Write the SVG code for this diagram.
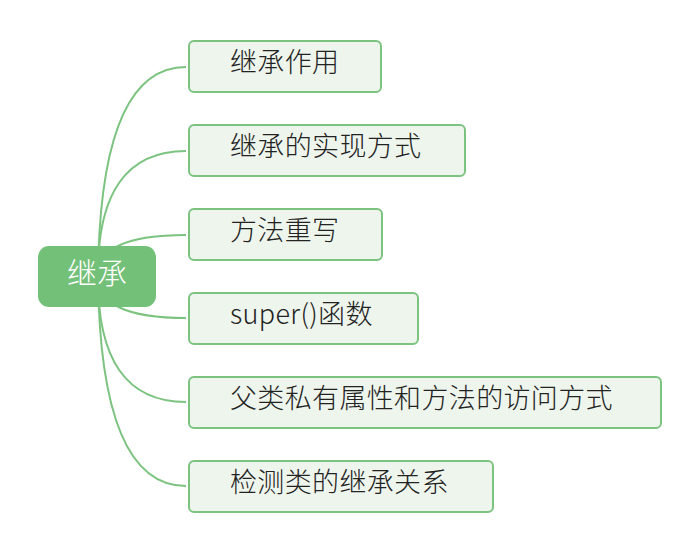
<svg xmlns="http://www.w3.org/2000/svg" width="700" height="552" viewBox="0 0 700 552">
<style>
.edge{fill:none;stroke:#7cc380;stroke-width:2}
.box{fill:#eef5ec;stroke:#7cc380;stroke-width:2}
.lbl{font-family:"Noto Sans CJK SC","Noto Sans",sans-serif;font-size:27px;font-weight:300;letter-spacing:0.35px;fill:#222}
.root{fill:#73c079}
.rlbl{font-family:"Noto Sans CJK SC","Noto Sans",sans-serif;font-size:30px;font-weight:300;fill:#fff;text-anchor:middle}
</style>
<rect width="700" height="552" fill="#fff"/>
<g id="connectors">
<path class="edge" d="M98 276 Q100 67 186 67"/>
<path class="edge" d="M98 276 Q97 151 186 151"/>
<path class="edge" d="M98 276 Q97 235 186 235"/>
<path class="edge" d="M98 276 Q97 318 186 318"/>
<path class="edge" d="M98 276 Q97 402 186 402"/>
<path class="edge" d="M98 276 Q100 486 186 486"/>
</g>
<g id="root">
<rect class="root" x="38" y="246" width="118" height="61" rx="11"/>
<text class="rlbl" x="97" y="284">继承</text>
</g>
<g id="n1">
<rect class="box" x="189" y="41" width="192" height="51" rx="5"/>
<text class="lbl" x="230" y="72">继承作用</text>
</g>
<g id="n2">
<rect class="box" x="189" y="125" width="276" height="51" rx="5"/>
<text class="lbl" x="230" y="156">继承的实现方式</text>
</g>
<g id="n3">
<rect class="box" x="189" y="209" width="193" height="51" rx="5"/>
<text class="lbl" x="230" y="240">方法重写</text>
</g>
<g id="n4">
<rect class="box" x="189" y="293" width="229" height="51" rx="5"/>
<text class="lbl" x="230" y="324">super()函数</text>
</g>
<g id="n5">
<rect class="box" x="189" y="377" width="472" height="51" rx="5"/>
<text class="lbl" x="230" y="408">父类私有属性和方法的访问方式</text>
</g>
<g id="n6">
<rect class="box" x="189" y="461" width="304" height="51" rx="5"/>
<text class="lbl" x="230" y="492">检测类的继承关系</text>
</g>
</svg>
